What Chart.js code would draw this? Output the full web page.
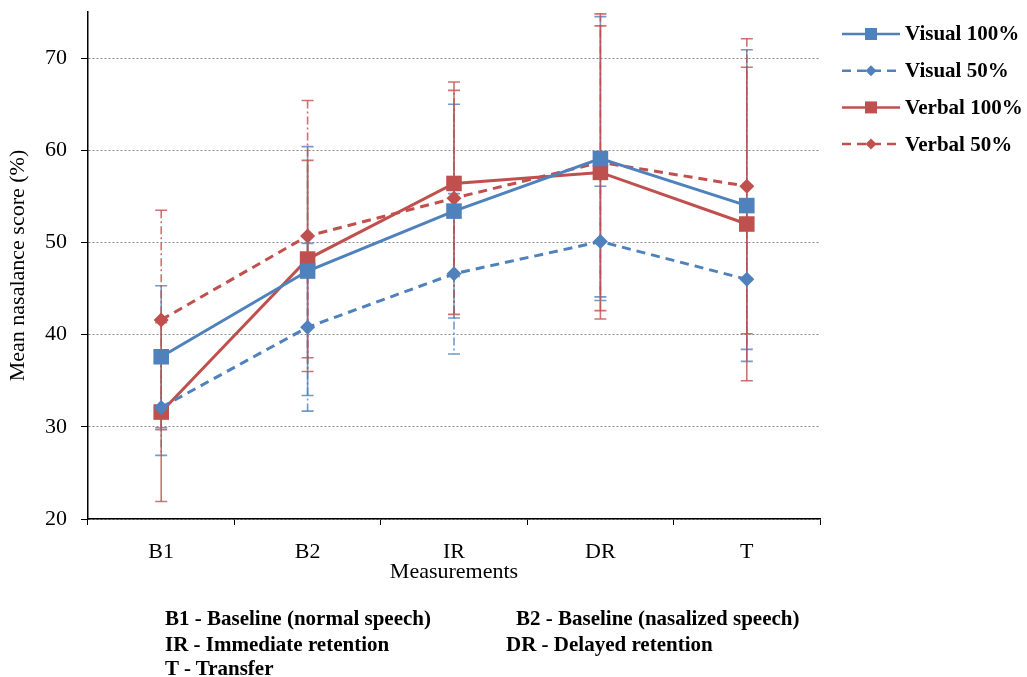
<!DOCTYPE html>
<html>
<head>
<meta charset="utf-8">
<script src="https://cdn.jsdelivr.net/npm/chart.js@4.4.1/dist/chart.umd.min.js"></script>
<style>
  body { margin: 0; background: #fff; }
  #wrap { position: relative; width: 1027px; height: 677px; }
  .note { position: absolute; font-family: "Liberation Serif", serif; font-weight: bold; font-size: 21px; color: #000; white-space: nowrap; line-height: 24px; }
</style>
</head>
<body>
<div id="wrap">
  <canvas id="myChart" width="1027" height="677"></canvas>
  <div class="note" style="left:165px; top:606px;">B1 - Baseline (normal speech)</div>
  <div class="note" style="left:516px; top:606px;">B2 - Baseline (nasalized speech)</div>
  <div class="note" style="left:165px; top:632px;">IR - Immediate retention</div>
  <div class="note" style="left:506px; top:632px;">DR - Delayed retention</div>
  <div class="note" style="left:165px; top:656px;">T - Transfer</div>
</div>
<script>
// dados
const categories = ['B1', 'B2', 'IR', 'DR', 'T'];
const seriesNames = ['Visual 100%', 'Visual 50%', 'Verbal 100%', 'Verbal 50%'];

const visual100 = [37.6, 46.9, 53.4, 59.1, 54.0];
const visual50 = [32.1, 40.8, 46.6, 50.1, 46.0];
const verbal100 = [31.6, 48.2, 56.4, 57.6, 52.0];
const verbal50 = [41.6, 50.7, 54.8, 58.7, 56.1];

// desvios (barras de erro)
const visual100Sd = [7.7, 13.5, 11.6, 15.4, 16.9];
const visual50Sd = [5.2, 9.1, 8.7, 6.0, 7.6];
const verbal100Sd = [9.7, 10.7, 10.1, 15.9, 17.0];
const verbal50Sd = [11.9, 14.7, 12.6, 16.1, 16.0];

const yTicks = [20, 30, 40, 50, 60, 70];

const blue = '#4F81BD';
const red = '#C0504D';
const serif = '"Liberation Serif", "Times New Roman", serif';

var canvas = document.getElementById('myChart');
var ctx = canvas.getContext('2d');

// plugin para desenhar as barras de erro
const errorBars = {
  id: 'errorBars',
  beforeDatasetsDraw(chart) {
    const c = chart.ctx;
    const xs = chart.scales.x, ys = chart.scales.y;
    chart.data.datasets.forEach(function (ds) {
      c.save();
      c.strokeStyle = ds.errColor;
      c.lineWidth = 1.6;
      ds.data.forEach(function (v, i) {
        const x = xs.getPixelForValue(i);
        const top = ys.getPixelForValue(v + ds.sd[i]);
        const bot = ys.getPixelForValue(v - ds.sd[i]);
        c.setLineDash(ds.errDash);
        c.beginPath();
        c.moveTo(x, top); c.lineTo(x, bot);
        c.stroke();
        c.setLineDash([]);
        c.beginPath();
        c.moveTo(x - 6, top); c.lineTo(x + 6, top);
        c.moveTo(x - 6, bot); c.lineTo(x + 6, bot);
        c.stroke();
      });
      c.restore();
    });
  }
};

// legenda desenhada à mão (linha + marcador)
const sideLegend = {
  id: 'sideLegend',
  afterDraw(chart) {
    const c = chart.ctx;
    chart.data.datasets.forEach(function (ds, i) {
      const y = 34 + i * 36.7;
      c.save();
      c.strokeStyle = ds.borderColor;
      c.lineWidth = 2.5;
      c.setLineDash(ds.borderDash || []);
      c.beginPath();
      c.moveTo(842, y); c.lineTo(900, y);
      c.stroke();
      c.setLineDash([]);
      c.fillStyle = ds.borderColor;
      c.beginPath();
      if (ds.pointStyle === 'rect') {
        c.rect(865, y - 6, 12, 12);
      } else {
        c.moveTo(871, y - 5.5); c.lineTo(876.5, y); c.lineTo(871, y + 5.5); c.lineTo(865.5, y);
        c.closePath();
      }
      c.fill();
      c.fillStyle = '#000';
      c.font = 'bold 21px ' + serif;
      c.textBaseline = 'middle';
      c.fillText(ds.label, 905, y + 1);
      c.restore();
    });
  }
};

function makeSet(label, data, sd, color, errColor, dashed) {
  return {
    label: label,
    data: data,
    sd: sd,
    borderColor: color,
    backgroundColor: color,
    borderWidth: 3,
    borderDash: dashed ? [9, 6] : [],
    pointStyle: dashed ? 'rectRot' : 'rect',
    pointRadius: dashed ? 7.5 : 11,
    pointBorderWidth: 0,
    errColor: errColor,
    errDash: dashed ? [8, 3, 2, 3] : [],
    tension: 0,
  };
}

var myChart = new Chart(ctx, {
  type: 'line',
  data: {
    labels: categories,
    datasets: [
      makeSet(seriesNames[0], visual100, visual100Sd, blue, 'rgba(79,129,189,0.8)', false),
      makeSet(seriesNames[1], visual50, visual50Sd, blue, 'rgba(79,129,189,0.8)', true),
      makeSet(seriesNames[2], verbal100, verbal100Sd, red, 'rgba(192,80,77,0.8)', false),
      makeSet(seriesNames[3], verbal50, verbal50Sd, red, 'rgba(192,80,77,0.8)', true),
    ],
  },
  options: {
    responsive: false,
    maintainAspectRatio: false,
    animation: false,
    layout: { padding: { left: 0, top: 12, right: 207, bottom: 92 } },
    plugins: {
      legend: { display: false },
      tooltip: { enabled: false },
    },
    scales: {
      x: {
        offset: true,
        grid: { offset: true, drawOnChartArea: false, color: '#000', tickLength: 6 },
        border: { color: '#000', width: 1.5 },
        ticks: { color: '#000', padding: 14, font: { family: serif, size: 22 } },
        title: { display: true, text: 'Measurements', color: '#000', padding: { top: 0, bottom: 0 }, font: { family: serif, size: 22 } },
        afterFit: function (scale) {
          scale.height = 66;
          scale.paddingLeft = 0; scale.paddingRight = 0;
        },
      },
      y: {
        min: 20,
        max: 75,
        afterBuildTicks: function (scale) {
          scale.ticks = yTicks.map(function (v) { return { value: v }; });
        },
        grid: { color: '#888', tickColor: '#000', tickLength: 7, tickBorderDash: [] },
        border: { color: '#000', width: 1.5, dash: [2, 2] },
        ticks: { color: '#000', padding: 14, font: { family: serif, size: 22 } },
        title: { display: true, text: 'Mean nasalance score (%)', color: '#000', padding: { top: 5, bottom: 0 }, font: { family: serif, size: 22 } },
        afterFit: function (scale) {
          scale.width = 88;
          scale.paddingTop = 0; scale.paddingBottom = 0;
        },
      },
    },
  },
  plugins: [errorBars, sideLegend],
});
</script>
</body>
</html>
